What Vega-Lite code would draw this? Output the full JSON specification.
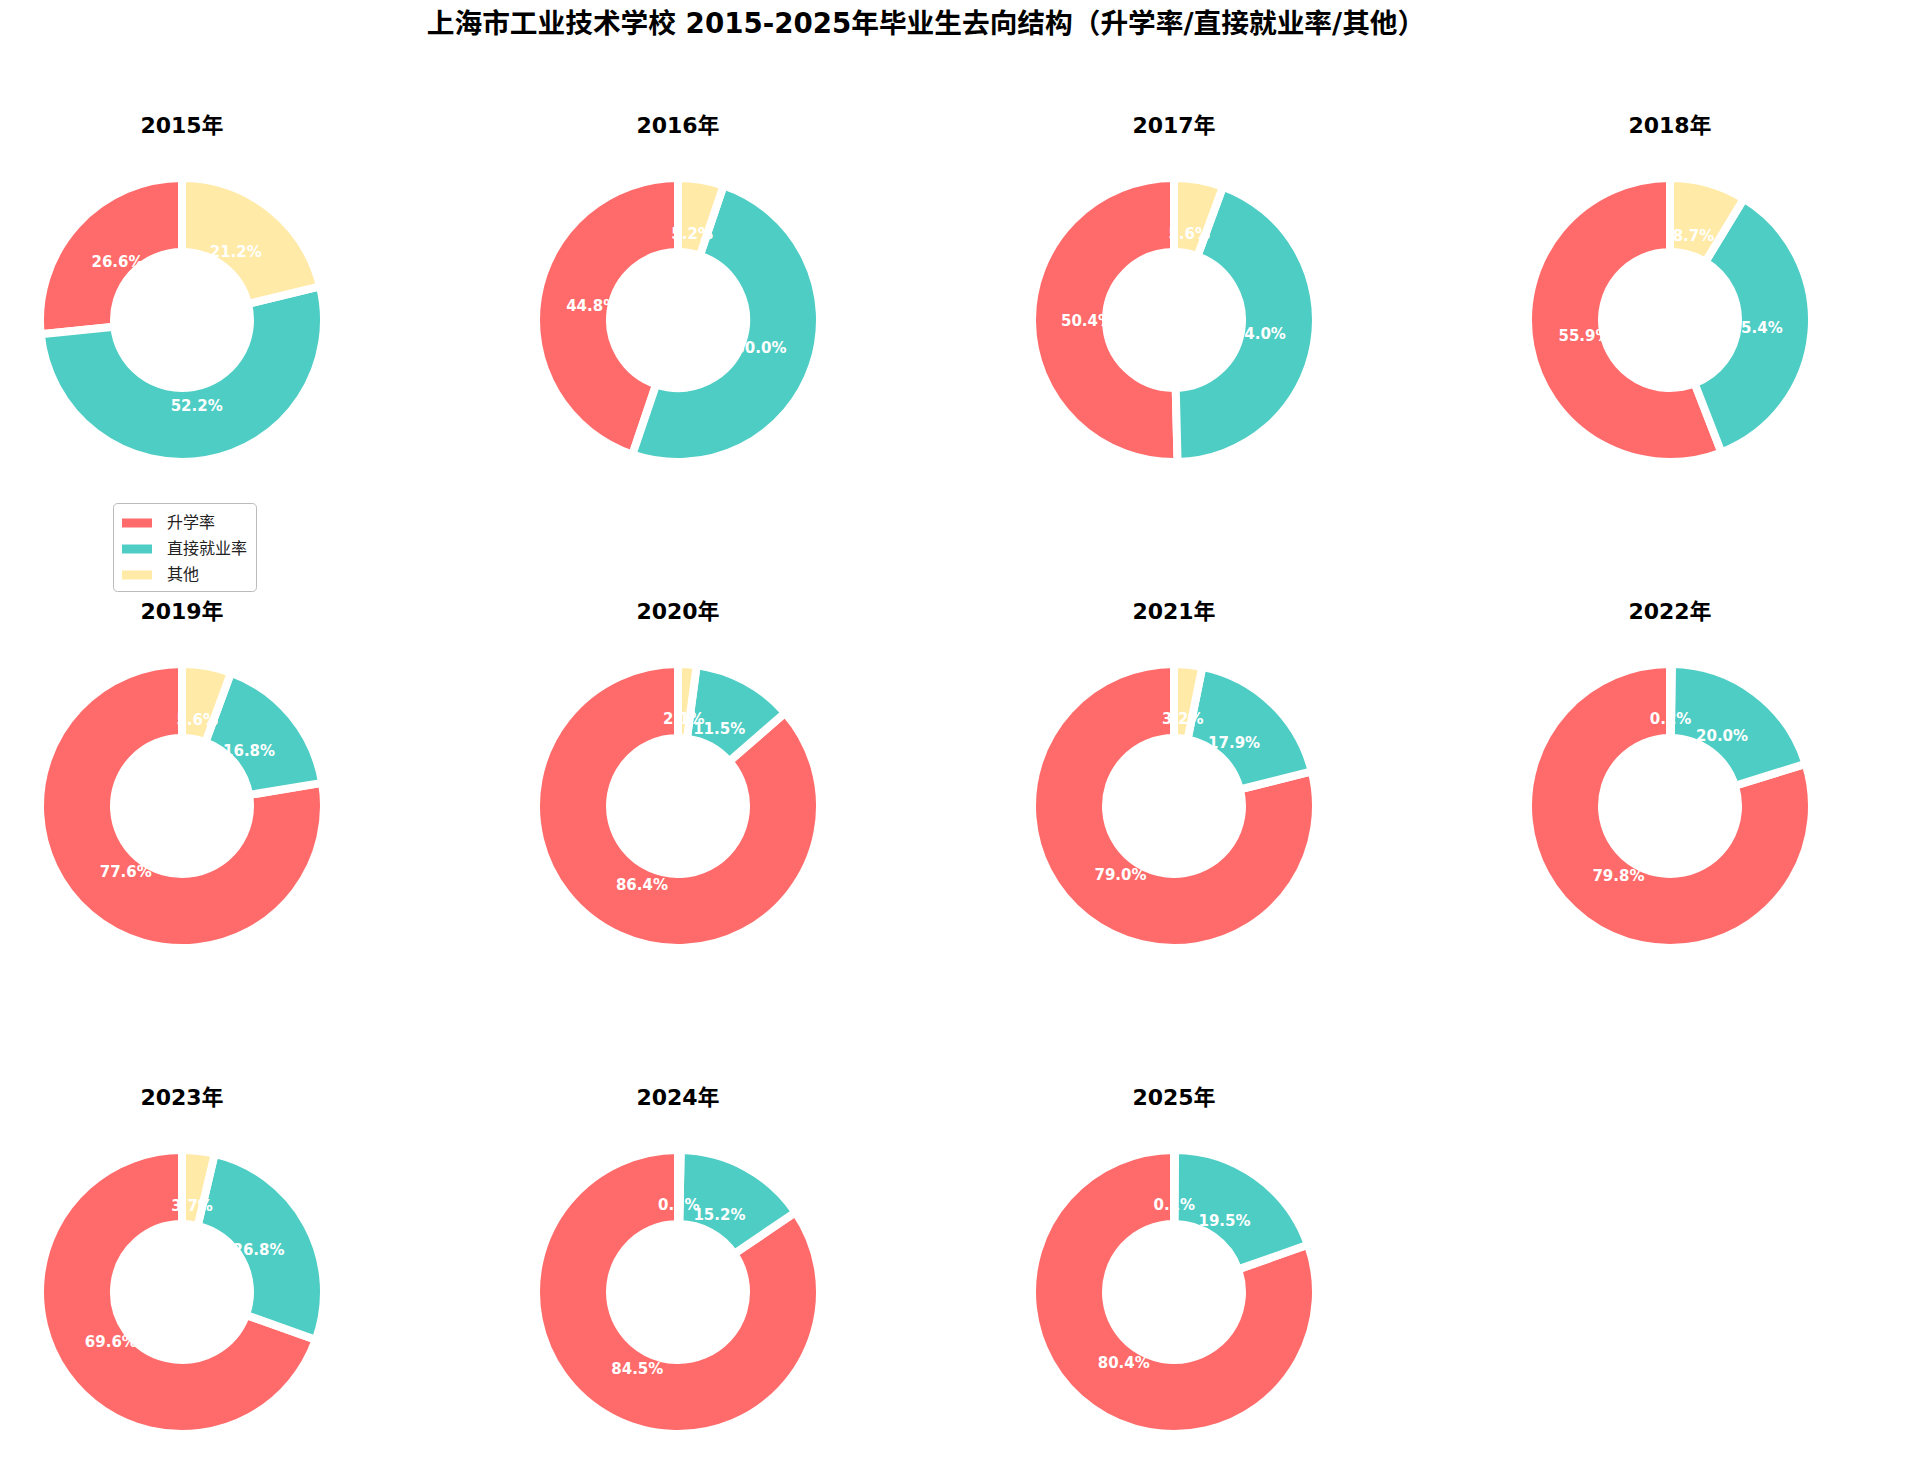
{
  "$schema": "https://vega.github.io/schema/vega-lite/v6.json",
  "background": "white",
  "padding": {"left": 32, "top": 11, "right": 10, "bottom": 10},
  "title": {
    "text": "上海市工业技术学校 2015-2025年毕业生去向结构（升学率/直接就业率/其他）",
    "fontSize": 27.7,
    "fontWeight": "bold",
    "font": "DejaVu Sans, Noto Sans CJK SC",
    "color": "black",
    "anchor": "middle",
    "offset": 76
  },
  "data": {
    "values": [
      {"年份": "2015年", "类别": "升学率", "占比": 26.6},
      {"年份": "2015年", "类别": "直接就业率", "占比": 52.2},
      {"年份": "2015年", "类别": "其他", "占比": 21.2},
      {"年份": "2016年", "类别": "升学率", "占比": 44.8},
      {"年份": "2016年", "类别": "直接就业率", "占比": 50.0},
      {"年份": "2016年", "类别": "其他", "占比": 5.2},
      {"年份": "2017年", "类别": "升学率", "占比": 50.4},
      {"年份": "2017年", "类别": "直接就业率", "占比": 44.0},
      {"年份": "2017年", "类别": "其他", "占比": 5.6},
      {"年份": "2018年", "类别": "升学率", "占比": 55.9},
      {"年份": "2018年", "类别": "直接就业率", "占比": 35.4},
      {"年份": "2018年", "类别": "其他", "占比": 8.7},
      {"年份": "2019年", "类别": "升学率", "占比": 77.6},
      {"年份": "2019年", "类别": "直接就业率", "占比": 16.8},
      {"年份": "2019年", "类别": "其他", "占比": 5.6},
      {"年份": "2020年", "类别": "升学率", "占比": 86.4},
      {"年份": "2020年", "类别": "直接就业率", "占比": 11.5},
      {"年份": "2020年", "类别": "其他", "占比": 2.1},
      {"年份": "2021年", "类别": "升学率", "占比": 79.0},
      {"年份": "2021年", "类别": "直接就业率", "占比": 17.9},
      {"年份": "2021年", "类别": "其他", "占比": 3.2},
      {"年份": "2022年", "类别": "升学率", "占比": 79.8},
      {"年份": "2022年", "类别": "直接就业率", "占比": 20.0},
      {"年份": "2022年", "类别": "其他", "占比": 0.2},
      {"年份": "2023年", "类别": "升学率", "占比": 69.6},
      {"年份": "2023年", "类别": "直接就业率", "占比": 26.8},
      {"年份": "2023年", "类别": "其他", "占比": 3.7},
      {"年份": "2024年", "类别": "升学率", "占比": 84.5},
      {"年份": "2024年", "类别": "直接就业率", "占比": 15.2},
      {"年份": "2024年", "类别": "其他", "占比": 0.3},
      {"年份": "2025年", "类别": "升学率", "占比": 80.4},
      {"年份": "2025年", "类别": "直接就业率", "占比": 19.5},
      {"年份": "2025年", "类别": "其他", "占比": 0.1}
    ]
  },
  "transform": [
    {"calculate": "indexof(['其他','直接就业率','升学率'], datum['类别'])", "as": "ord"},
    {"calculate": "format(datum['占比'], '.1f') + '%'", "as": "label"}
  ],
  "facet": {
    "field": "年份",
    "type": "nominal",
    "header": {
      "title": null,
      "labelFontSize": 22,
      "labelFontWeight": "bold",
      "labelFont": "DejaVu Sans, Noto Sans CJK SC",
      "labelColor": "black",
      "labelPadding": 32
    }
  },
  "columns": 4,
  "spacing": {"column": 196, "row": 131},
  "spec": {
    "width": 300,
    "height": 300,
    "layer": [
      {
        "mark": {"type": "arc", "outerRadius": 142, "innerRadius": 68, "stroke": "white", "strokeWidth": 8, "strokeJoin": "bevel"},
        "encoding": {
          "theta": {"field": "占比", "type": "quantitative", "stack": true},
          "order": {"field": "ord", "type": "quantitative"},
          "color": {
            "field": "类别",
            "type": "nominal",
            "scale": {"domain": ["升学率", "直接就业率", "其他"], "range": ["#FF6B6B", "#4ECDC4", "#FFEAA7"]},
            "legend": {
              "title": null,
              "orient": "none",
              "legendX": 81,
              "legendY": 333,
              "fillColor": "white",
              "strokeColor": "#bbbbbb",
              "cornerRadius": 4,
              "padding": 8,
              "symbolOffset": 4,
              "symbolType": "M-1.25,-0.375H1.25V0.375H-1.25Z",
              "symbolSize": 576,
              "symbolStrokeWidth": 0,
              "labelFontSize": 16,
              "labelFont": "Noto Sans CJK SC",
              "labelColor": "#222222",
              "labelOffset": 18,
              "rowPadding": 6
            }
          }
        }
      },
      {
        "mark": {"type": "text", "radius": 87, "color": "white", "fontWeight": "bold", "fontSize": 15, "font": "DejaVu Sans", "align": "center", "baseline": "middle"},
        "encoding": {
          "theta": {"field": "占比", "type": "quantitative", "stack": true},
          "order": {"field": "ord", "type": "quantitative"},
          "detail": {"field": "类别", "type": "nominal"},
          "text": {"field": "label", "type": "nominal"}
        }
      }
    ]
  },
  "resolve": {"scale": {"theta": "independent"}},
  "config": {"view": {"stroke": null}}
}
